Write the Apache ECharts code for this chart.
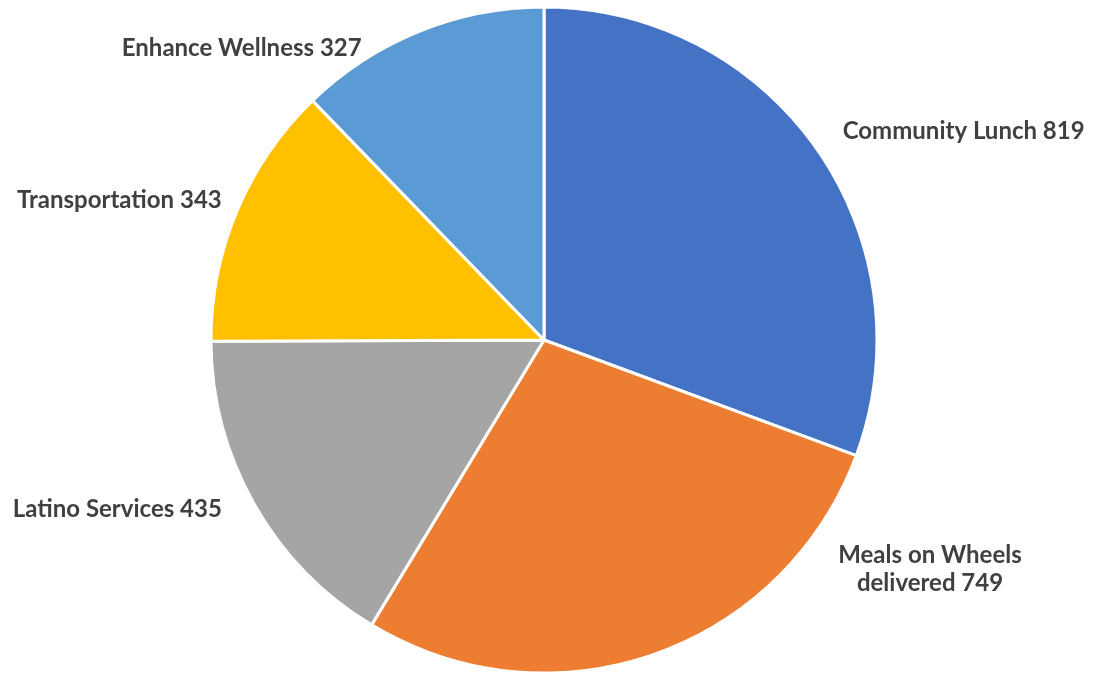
<!DOCTYPE html>
<html><head><meta charset="utf-8">
<script src="https://cdn.jsdelivr.net/npm/echarts@6/dist/echarts.min.js"></script>
<style>html,body{margin:0;padding:0;background:#fff}#c{width:1095px;height:675px}</style>
</head><body><div id="c"></div>
<script>
const categories = ['Community Lunch', 'Meals on Wheels\ndelivered', 'Latino Services', 'Transportation', 'Enhance Wellness'];
const values = [819, 749, 435, 343, 327];
const colors = ['#4472C4', '#ED7D31', '#A5A5A5', '#FFC000', '#5B9BD5'];

// label nudges relative to ECharts' default outside placement
const labelNudge = [
  { dx: -1, dy: -7 },
  { x: 930, y: 569, align: 'center', verticalAlign: 'middle' },
  { dx: -5, dy: -5 },
  { dx: 13, dy: -3 },
  { dx: -40, dy: 36 }
];

const chart = echarts.init(document.getElementById('c'));
chart.setOption({
  animation: false,
  series: [{
    type: 'pie',
    center: [544, 340],
    radius: 333,
    startAngle: 90,
    clockwise: true,
    avoidLabelOverlap: false,
    data: categories.map((n, i) => ({ name: n, value: values[i], itemStyle: { color: colors[i] } })),
    itemStyle: { borderColor: '#fff', borderWidth: 3 },
    label: {
      show: true,
      position: 'outside',
      formatter: '{b} {c}',
      fontFamily: 'Lato',
      fontWeight: 'bold',
      fontSize: 24,
      color: '#404040',
      lineHeight: 28
    },
    labelLine: { show: false, length: 20, length2: 5 },
    labelLayout: function (p) {
      return labelNudge[p.dataIndex];
    }
  }]
});
</script></body></html>
